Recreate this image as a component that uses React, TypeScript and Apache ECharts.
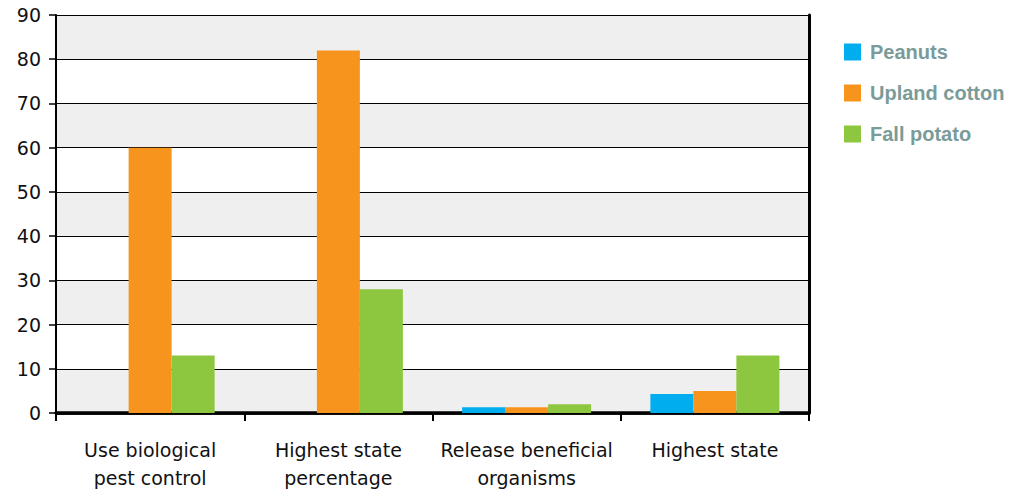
import React, { useEffect, useRef } from "react";
import * as echarts from "echarts";

const categories = [
  "Use biological\npest control",
  "Highest state\npercentage",
  "Release beneficial\norganisms",
  "Highest state",
];
const peanuts = [0, 0, 1.3, 4.3];
const uplandCotton = [60, 82, 1.3, 5];
const fallPotato = [13, 28, 2, 13];
const seriesNames = ["Peanuts", "Upland cotton", "Fall potato"];
const colors = ["#00aeef", "#f7941d", "#8dc63f"];

export default function App() {
  const ref = useRef<HTMLDivElement>(null);
  useEffect(() => {
    const chart = echarts.init(ref.current!, null, { renderer: "svg" });
    const font = "'DejaVu Sans', sans-serif";
    const legendFont = "'Liberation Sans', Arial, sans-serif";
    const data = [peanuts, uplandCotton, fallPotato];
    chart.setOption({
      animation: false,
      textStyle: { fontFamily: font },
      grid: { left: 56, right: 216, top: 15, bottom: 76.5 },
      legend: {
        orient: "vertical",
        left: 839,
        top: 37,
        itemWidth: 17,
        itemHeight: 17,
        itemGap: 21,
        icon: "rect",
        textStyle: {
          color: "#7a9b99",
          fontWeight: "bold",
          fontSize: 20,
          lineHeight: 20,
          fontFamily: legendFont,
          padding: [0, 0, 0, 4],
        },
        data: seriesNames,
      },
      xAxis: [
        {
          type: "category",
          data: categories,
          axisLine: { lineStyle: { color: "#000", width: 2.5 } },
          axisTick: { show: true, length: 8, lineStyle: { color: "#000", width: 2 } },
          axisLabel: {
            interval: 0,
            color: "#111",
            fontSize: 19,
            margin: 23,
            lineHeight: 28,
            fontFamily: font,
          },
        },
        {
          type: "category",
          position: "top",
          data: categories,
          axisLine: { lineStyle: { color: "#000", width: 3.5 } },
          axisTick: { show: false },
          axisLabel: { show: false },
        },
      ],
      yAxis: [
        {
          type: "value",
          min: 0,
          max: 90,
          interval: 10,
          axisLine: { show: true, lineStyle: { color: "#000", width: 2 } },
          axisTick: { show: true, length: 7, lineStyle: { color: "#000", width: 1.5 } },
          axisLabel: { color: "#111", fontSize: 19, margin: 15, fontFamily: font },
          splitLine: { show: true, lineStyle: { color: "#000", width: 1 } },
          splitArea: { show: true, areaStyle: { color: ["#efefef", "#ffffff"] } },
        },
        {
          type: "value",
          position: "right",
          min: 0,
          max: 90,
          interval: 10,
          axisLine: { show: true, lineStyle: { color: "#000", width: 3 } },
          axisTick: { show: false },
          axisLabel: { show: false },
          splitLine: { show: false },
        },
      ],
      series: seriesNames.map((name, i) => ({
        name,
        type: "bar",
        data: data[i],
        barWidth: 43,
        barGap: "0%",
        itemStyle: { color: colors[i] },
      })),
    });
    return () => chart.dispose();
  }, []);
  return (
    <div
      ref={ref}
      style={{ width: 1025, height: 492, position: "absolute", left: 0, top: 0 }}
    />
  );
}
